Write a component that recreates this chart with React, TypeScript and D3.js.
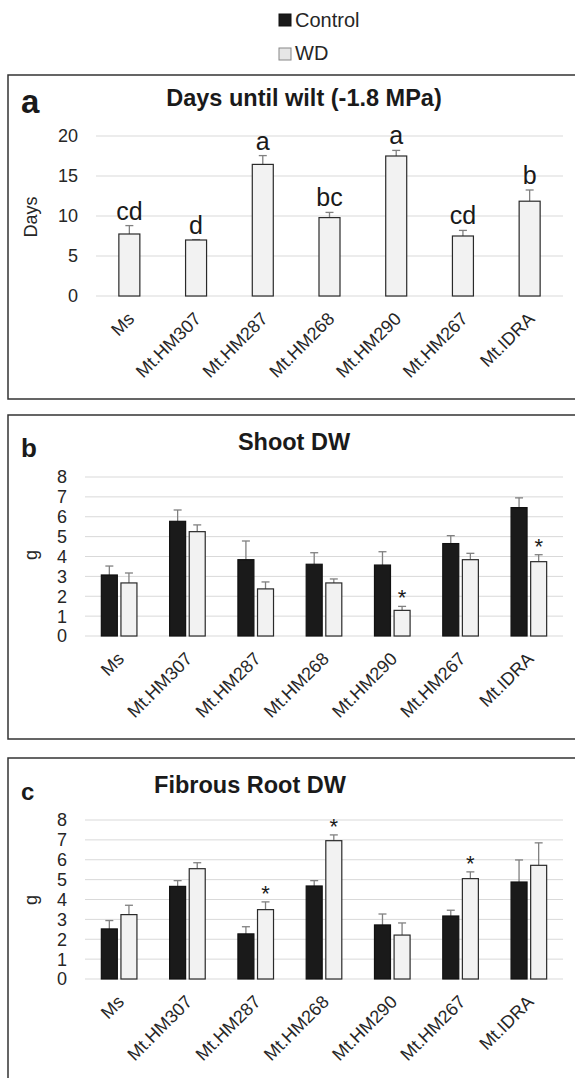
import React from "react";
import * as d3 from "d3";

// genotypes on the x axis (same in every panel)
const genotypes = ["Ms", "Mt.HM307", "Mt.HM287", "Mt.HM268", "Mt.HM290", "Mt.HM267", "Mt.IDRA"];
const series = ["Control", "WD"];

// panel a: days until wilt
const wiltDays = [7.75, 7.0, 16.45, 9.8, 17.5, 7.5, 11.85];
const wiltErr = [1.05, 0.05, 1.1, 0.65, 0.7, 0.7, 1.4];
const wiltLetters = ["cd", "d", "a", "bc", "a", "cd", "b"];
const dayTicks = [0, 5, 10, 15, 20];

// panel b: shoot dry weight
const shootControl = [3.07, 5.77, 3.84, 3.61, 3.57, 4.65, 6.46];
const shootControlErr = [0.45, 0.57, 0.94, 0.58, 0.67, 0.4, 0.49];
const shootWD = [2.67, 5.25, 2.37, 2.67, 1.29, 3.84, 3.74];
const shootWDErr = [0.5, 0.34, 0.35, 0.2, 0.2, 0.32, 0.35];
const shootStars = [false, false, false, false, true, false, true];

// panel c: fibrous root dry weight
const rootControl = [2.52, 4.66, 2.27, 4.68, 2.72, 3.17, 4.88];
const rootControlErr = [0.42, 0.29, 0.36, 0.27, 0.55, 0.29, 1.11];
const rootWD = [3.24, 5.55, 3.49, 6.96, 2.21, 5.05, 5.72];
const rootWDErr = [0.47, 0.3, 0.39, 0.29, 0.61, 0.34, 1.13];
const rootStars = [false, false, true, true, false, true, false];
const gramTicks = [0, 1, 2, 3, 4, 5, 6, 7, 8];

const FONT = "'Liberation Sans', Arial, sans-serif";
const fills: Record<string, string> = { Control: "#1a1a1a", WD: "#f2f2f2" };
const strokes: Record<string, string> = { Control: "#111", WD: "#2a2a2a" };

type Bar = { key: string; values: number[]; errs: number[] };

function Panel(props: {
  top: number;
  bottom: number;
  letter: string;
  letterSize: number;
  letterY: number;
  title: string;
  titleX: number;
  titleY: number;
  yTop: number;
  yBottom: number;
  xLeft: number;
  ymax: number;
  ticks: number[];
  yLabel: string;
  yLabelY: number;
  bars: Bar[];
  barWidth: number;
  marks: (string | null)[];
  markSize: number;
  markGap: number;
}) {
  const p = props;
  const x = d3.scaleBand<string>().domain(genotypes).range([p.xLeft, 563]).padding(0);
  const y = d3.scaleLinear().domain([0, p.ymax]).range([p.yBottom, p.yTop]);
  const keys = p.bars.map((b) => b.key);
  const half = keys.length > 1 ? 17.8 : p.barWidth / 2;
  const inner = d3
    .scaleBand<string>()
    .domain(keys)
    .range([-half, half])
    .paddingInner(keys.length > 1 ? 0.184 : 0);
  const bw = inner.bandwidth();
  const ticksFmt = d3.format("d");

  return (
    <g>
      <rect x={8} y={p.top} width={600} height={p.bottom - p.top} fill="#fff" stroke="#333" strokeWidth={1.5} />
      <text x={21} y={p.letterY} fontSize={p.letterSize} fontWeight="bold" fill="#1a1a1a">
        {p.letter}
      </text>
      <text x={p.titleX} y={p.titleY} fontSize={23.5} fontWeight="bold" textAnchor="middle" fill="#1a1a1a">
        {p.title}
      </text>
      {p.ticks.map((t) => (
        <g key={t}>
          <line x1={p.xLeft} x2={563} y1={y(t)} y2={y(t)} stroke="#d9d9d9" strokeWidth={1} />
          <text x={p.xLeft - 18} y={y(t)} dy="0.36em" textAnchor="end" fontSize={18} fill="#262626">
            {ticksFmt(t)}
          </text>
        </g>
      ))}
      <text
        transform={`translate(37,${p.yLabelY}) rotate(-90)`}
        textAnchor="middle"
        fontSize={18}
        fill="#262626"
      >
        {p.yLabel}
      </text>
      {genotypes.map((g, i) => {
        const cx = (x(g) as number) + x.bandwidth() / 2;
        return (
          <g key={g}>
            {p.bars.map((b) => {
              const bx = cx + (inner(b.key) as number);
              const v = b.values[i];
              const top = v + b.errs[i];
              return (
                <g key={b.key}>
                  <line x1={bx + bw / 2} x2={bx + bw / 2} y1={y(v)} y2={y(top)} stroke="#808080" strokeWidth={1.3} />
                  <line x1={bx + bw / 2 - 4} x2={bx + bw / 2 + 4} y1={y(top)} y2={y(top)} stroke="#808080" strokeWidth={1.3} />
                  <rect
                    x={bx}
                    y={y(v)}
                    width={bw}
                    height={y(0) - y(v)}
                    fill={fills[b.key]}
                    stroke={strokes[b.key]}
                    strokeWidth={1.2}
                  />
                </g>
              );
            })}
            {p.marks[i] &&
              (() => {
                const last = p.bars[p.bars.length - 1];
                const bx = cx + (inner(last.key) as number) + bw / 2;
                return (
                  <text
                    x={bx}
                    y={y(last.values[i] + last.errs[i]) - p.markGap}
                    textAnchor="middle"
                    fontSize={p.markSize}
                    fill="#1a1a1a"
                  >
                    {p.marks[i]}
                  </text>
                );
              })()}
            <text
              transform={`translate(${cx + 6},${p.yBottom + 24}) rotate(-45)`}
              textAnchor="end"
              fontSize={18}
              fill="#262626"
            >
              {g}
            </text>
          </g>
        );
      })}
    </g>
  );
}

export default function App() {
  return (
    <svg
      width={575}
      height={1078}
      style={{ position: "absolute", left: 0, top: 0, background: "#fff" }}
      fontFamily={FONT}
    >
      {/* legend */}
      <rect x={279} y={14} width={12} height={12} fill={fills.Control} stroke="#111" />
      <text x={295} y={27} fontSize={20} fill="#262626">{series[0]}</text>
      <rect x={279} y={48} width={12} height={12} fill="#e6e6e6" stroke="#888" />
      <text x={295} y={59.5} fontSize={20} fill="#262626">{series[1]}</text>

      <Panel
        top={75}
        bottom={399}
        letter="a"
        letterSize={33}
        letterY={113}
        title="Days until wilt (-1.8 MPa)"
        titleX={304}
        titleY={106}
        yTop={136}
        yBottom={296}
        xLeft={96}
        ymax={20}
        ticks={dayTicks}
        yLabel="Days"
        yLabelY={217}
        bars={[{ key: "WD", values: wiltDays, errs: wiltErr }]}
        barWidth={21}
        marks={wiltLetters}
        markSize={25}
        markGap={6}
      />
      <Panel
        top={415}
        bottom={739}
        letter="b"
        letterSize={26}
        letterY={457}
        title="Shoot DW"
        titleX={294}
        titleY={450}
        yTop={477}
        yBottom={636}
        xLeft={85}
        ymax={8}
        ticks={gramTicks}
        yLabel="g"
        yLabelY={555}
        bars={[
          { key: "Control", values: shootControl, errs: shootControlErr },
          { key: "WD", values: shootWD, errs: shootWDErr },
        ]}
        barWidth={16}
        marks={shootStars.map((s) => (s ? "*" : null))}
        markSize={22}
        markGap={1}
      />
      <Panel
        top={758}
        bottom={1100}
        letter="c"
        letterSize={24}
        letterY={800}
        title="Fibrous Root DW"
        titleX={250}
        titleY={793}
        yTop={820}
        yBottom={979}
        xLeft={85}
        ymax={8}
        ticks={gramTicks}
        yLabel="g"
        yLabelY={900}
        bars={[
          { key: "Control", values: rootControl, errs: rootControlErr },
          { key: "WD", values: rootWD, errs: rootWDErr },
        ]}
        barWidth={16}
        marks={rootStars.map((s) => (s ? "*" : null))}
        markSize={22}
        markGap={1}
      />
    </svg>
  );
}
